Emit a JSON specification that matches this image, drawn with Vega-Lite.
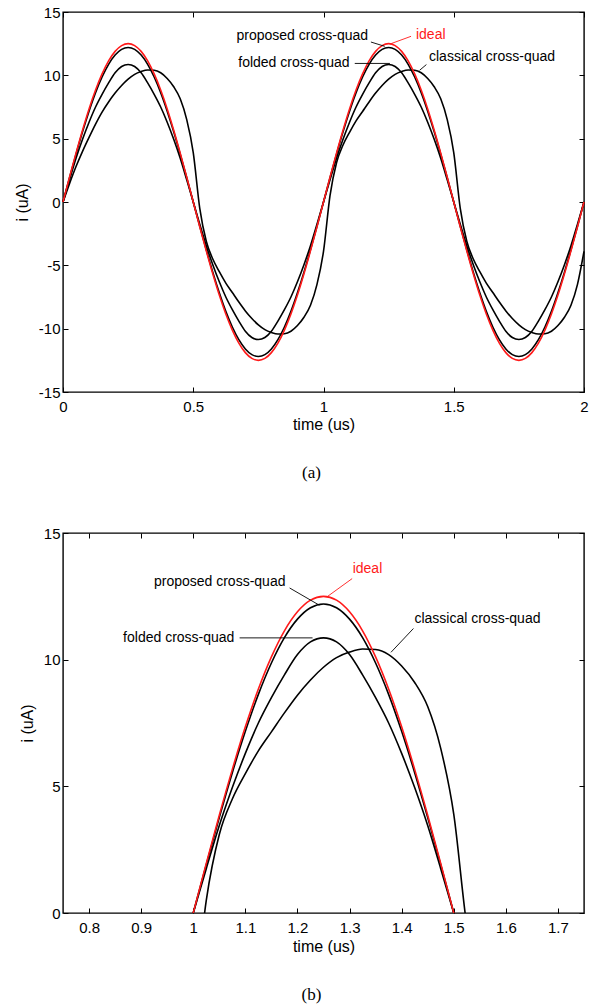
{
  "$schema": "https://vega.github.io/schema/vega-lite/v6.json",
  "background": "white",
  "padding": {"left": 13, "top": 4, "right": 5, "bottom": 4},
  "spacing": 43,
  "config": {
    "font": "Liberation Sans",
    "view": {"stroke": "black", "strokeWidth": 1.4},
    "axis": {
      "grid": false, "domain": false, "tickColor": "black", "tickSize": -5, "tickWidth": 1,
      "labelColor": "black", "labelFontSize": 15, "labelFont": "Liberation Sans",
      "titleFont": "Liberation Sans", "titleFontSize": 16, "titleFontWeight": "normal", "titleColor": "black",
      "labelFlush": false, "labelOverlap": false
    },
    "text": {"font": "Liberation Sans", "fontSize": 14}
  },
  "datasets": {
    "curves": [
      {"t":0,"ideal":0,"proposed":0,"folded":0,"classical":0},
      {"t":0.025,"ideal":1.96,"proposed":1.91,"folded":1.75,"classical":1.45},
      {"t":0.05,"ideal":3.86,"proposed":3.77,"folded":3.45,"classical":2.8},
      {"t":0.075,"ideal":5.67,"proposed":5.54,"folded":4.95,"classical":4.0},
      {"t":0.1,"ideal":7.35,"proposed":7.17,"folded":6.3,"classical":5.1},
      {"t":0.125,"ideal":8.84,"proposed":8.63,"folded":7.5,"classical":6.15},
      {"t":0.15,"ideal":10.11,"proposed":9.87,"folded":8.5,"classical":7.1},
      {"t":0.175,"ideal":11.14,"proposed":10.87,"folded":9.4,"classical":7.9},
      {"t":0.2,"ideal":11.89,"proposed":11.6,"folded":10.2,"classical":8.6},
      {"t":0.225,"ideal":12.35,"proposed":12.05,"folded":10.7,"classical":9.2},
      {"t":0.25,"ideal":12.5,"proposed":12.2,"folded":10.86,"classical":9.7},
      {"t":0.275,"ideal":12.35,"proposed":12.05,"folded":10.7,"classical":10.08},
      {"t":0.3,"ideal":11.89,"proposed":11.6,"folded":10.2,"classical":10.3},
      {"t":0.325,"ideal":11.14,"proposed":10.87,"folded":9.4,"classical":10.42},
      {"t":0.35,"ideal":10.11,"proposed":9.87,"folded":8.5,"classical":10.4},
      {"t":0.375,"ideal":8.84,"proposed":8.63,"folded":7.5,"classical":10.2},
      {"t":0.4,"ideal":7.35,"proposed":7.17,"folded":6.3,"classical":9.75},
      {"t":0.425,"ideal":5.67,"proposed":5.54,"folded":4.95,"classical":9.1},
      {"t":0.45,"ideal":3.86,"proposed":3.77,"folded":3.45,"classical":8.15},
      {"t":0.475,"ideal":1.96,"proposed":1.91,"folded":1.75,"classical":6.5},
      {"t":0.5,"ideal":0,"proposed":0,"folded":0,"classical":3.9},
      {"t":0.525,"ideal":-1.96,"proposed":-1.91,"folded":-1.75,"classical":-0.5},
      {"t":0.55,"ideal":-3.86,"proposed":-3.77,"folded":-3.45,"classical":-3.1},
      {"t":0.575,"ideal":-5.67,"proposed":-5.54,"folded":-4.95,"classical":-4.5},
      {"t":0.6,"ideal":-7.35,"proposed":-7.17,"folded":-6.3,"classical":-5.5},
      {"t":0.625,"ideal":-8.84,"proposed":-8.63,"folded":-7.5,"classical":-6.4},
      {"t":0.65,"ideal":-10.11,"proposed":-9.87,"folded":-8.5,"classical":-7.15},
      {"t":0.675,"ideal":-11.14,"proposed":-10.87,"folded":-9.4,"classical":-7.9},
      {"t":0.7,"ideal":-11.89,"proposed":-11.6,"folded":-10.2,"classical":-8.6},
      {"t":0.725,"ideal":-12.35,"proposed":-12.05,"folded":-10.7,"classical":-9.2},
      {"t":0.75,"ideal":-12.5,"proposed":-12.2,"folded":-10.86,"classical":-9.7},
      {"t":0.775,"ideal":-12.35,"proposed":-12.05,"folded":-10.7,"classical":-10.08},
      {"t":0.8,"ideal":-11.89,"proposed":-11.6,"folded":-10.2,"classical":-10.3},
      {"t":0.825,"ideal":-11.14,"proposed":-10.87,"folded":-9.4,"classical":-10.42},
      {"t":0.85,"ideal":-10.11,"proposed":-9.87,"folded":-8.5,"classical":-10.4},
      {"t":0.875,"ideal":-8.84,"proposed":-8.63,"folded":-7.5,"classical":-10.2},
      {"t":0.9,"ideal":-7.35,"proposed":-7.17,"folded":-6.3,"classical":-9.75},
      {"t":0.925,"ideal":-5.67,"proposed":-5.54,"folded":-4.95,"classical":-9.1},
      {"t":0.95,"ideal":-3.86,"proposed":-3.77,"folded":-3.45,"classical":-8.15},
      {"t":0.975,"ideal":-1.96,"proposed":-1.91,"folded":-1.75,"classical":-6.5},
      {"t":1.0,"ideal":0,"proposed":0,"folded":0,"classical":-3.9},
      {"t":1.025,"ideal":1.96,"proposed":1.91,"folded":1.75,"classical":0.5},
      {"t":1.05,"ideal":3.86,"proposed":3.77,"folded":3.45,"classical":3.1},
      {"t":1.075,"ideal":5.67,"proposed":5.54,"folded":4.95,"classical":4.5},
      {"t":1.1,"ideal":7.35,"proposed":7.17,"folded":6.3,"classical":5.5},
      {"t":1.125,"ideal":8.84,"proposed":8.63,"folded":7.5,"classical":6.4},
      {"t":1.15,"ideal":10.11,"proposed":9.87,"folded":8.5,"classical":7.15},
      {"t":1.175,"ideal":11.14,"proposed":10.87,"folded":9.4,"classical":7.9},
      {"t":1.2,"ideal":11.89,"proposed":11.6,"folded":10.2,"classical":8.6},
      {"t":1.225,"ideal":12.35,"proposed":12.05,"folded":10.7,"classical":9.2},
      {"t":1.25,"ideal":12.5,"proposed":12.2,"folded":10.86,"classical":9.7},
      {"t":1.275,"ideal":12.35,"proposed":12.05,"folded":10.7,"classical":10.08},
      {"t":1.3,"ideal":11.89,"proposed":11.6,"folded":10.2,"classical":10.3},
      {"t":1.325,"ideal":11.14,"proposed":10.87,"folded":9.4,"classical":10.42},
      {"t":1.35,"ideal":10.11,"proposed":9.87,"folded":8.5,"classical":10.4},
      {"t":1.375,"ideal":8.84,"proposed":8.63,"folded":7.5,"classical":10.2},
      {"t":1.4,"ideal":7.35,"proposed":7.17,"folded":6.3,"classical":9.75},
      {"t":1.425,"ideal":5.67,"proposed":5.54,"folded":4.95,"classical":9.1},
      {"t":1.45,"ideal":3.86,"proposed":3.77,"folded":3.45,"classical":8.15},
      {"t":1.475,"ideal":1.96,"proposed":1.91,"folded":1.75,"classical":6.5},
      {"t":1.5,"ideal":0,"proposed":0,"folded":0,"classical":3.9},
      {"t":1.525,"ideal":-1.96,"proposed":-1.91,"folded":-1.75,"classical":-0.5},
      {"t":1.55,"ideal":-3.86,"proposed":-3.77,"folded":-3.45,"classical":-3.1},
      {"t":1.575,"ideal":-5.67,"proposed":-5.54,"folded":-4.95,"classical":-4.5},
      {"t":1.6,"ideal":-7.35,"proposed":-7.17,"folded":-6.3,"classical":-5.5},
      {"t":1.625,"ideal":-8.84,"proposed":-8.63,"folded":-7.5,"classical":-6.4},
      {"t":1.65,"ideal":-10.11,"proposed":-9.87,"folded":-8.5,"classical":-7.15},
      {"t":1.675,"ideal":-11.14,"proposed":-10.87,"folded":-9.4,"classical":-7.9},
      {"t":1.7,"ideal":-11.89,"proposed":-11.6,"folded":-10.2,"classical":-8.6},
      {"t":1.725,"ideal":-12.35,"proposed":-12.05,"folded":-10.7,"classical":-9.2},
      {"t":1.75,"ideal":-12.5,"proposed":-12.2,"folded":-10.86,"classical":-9.7},
      {"t":1.775,"ideal":-12.35,"proposed":-12.05,"folded":-10.7,"classical":-10.08},
      {"t":1.8,"ideal":-11.89,"proposed":-11.6,"folded":-10.2,"classical":-10.3},
      {"t":1.825,"ideal":-11.14,"proposed":-10.87,"folded":-9.4,"classical":-10.42},
      {"t":1.85,"ideal":-10.11,"proposed":-9.87,"folded":-8.5,"classical":-10.4},
      {"t":1.875,"ideal":-8.84,"proposed":-8.63,"folded":-7.5,"classical":-10.2},
      {"t":1.9,"ideal":-7.35,"proposed":-7.17,"folded":-6.3,"classical":-9.75},
      {"t":1.925,"ideal":-5.67,"proposed":-5.54,"folded":-4.95,"classical":-9.1},
      {"t":1.95,"ideal":-3.86,"proposed":-3.77,"folded":-3.45,"classical":-8.15},
      {"t":1.975,"ideal":-1.96,"proposed":-1.91,"folded":-1.75,"classical":-6.5},
      {"t":2.0,"ideal":0,"proposed":0,"folded":0,"classical":-3.9}
    ],
    "notesA": [
      {"series":"proposed","label":"proposed cross-quad","t":1.171,"v":13.12},
      {"series":"folded","label":"folded cross-quad","t":1.1,"v":10.96},
      {"series":"ideal","label":"ideal","t":1.355,"v":13.2},
      {"series":"classical","label":"classical cross-quad","t":1.405,"v":11.43}
    ],
    "leadersA": [
      {"series":"proposed","t":1.182,"v":12.63,"t2":1.235,"v2":12.29},
      {"series":"ideal","t":1.336,"v":13.08,"t2":1.255,"v2":12.47},
      {"series":"folded","t":1.12,"v":10.94,"t2":1.255,"v2":10.94},
      {"series":"classical","t":1.395,"v":10.85,"t2":1.369,"v2":10.4}
    ],
    "notesB": [
      {"series":"proposed","label":"proposed cross-quad","t":1.177,"v":13.05},
      {"series":"folded","label":"folded cross-quad","t":1.079,"v":10.86},
      {"series":"ideal","label":"ideal","t":1.306,"v":13.56},
      {"series":"classical","label":"classical cross-quad","t":1.4245,"v":11.59}
    ],
    "leadersB": [
      {"series":"proposed","t":1.185,"v":12.83,"t2":1.242,"v2":12.15},
      {"series":"folded","t":1.089,"v":10.86,"t2":1.229,"v2":10.86},
      {"series":"ideal","t":1.305,"v":13.2,"t2":1.258,"v2":12.5},
      {"series":"classical","t":1.4226,"v":11.23,"t2":1.3795,"v2":10.29}
    ]
  },
  "vconcat": [
    {
      "width": 521, "height": 380,
      "title": {"text": "(a)", "orient": "bottom", "anchor": "middle", "frame": "group", "dx": -12, "font": "Liberation Serif", "fontSize": 17, "fontWeight": "normal", "color": "black", "offset": 33},
      "resolve": {"axis": {"x": "independent", "y": "independent"}},
      "layer": [
        {
          "data": {"name": "curves"},
          "transform": [{"fold": ["classical", "folded", "proposed", "ideal"], "as": ["series", "i"]}],
          "mark": {"type": "line", "strokeWidth": 1.6, "interpolate": "monotone"},
          "encoding": {
            "x": {"field": "t", "type": "quantitative", "scale": {"domain": [0, 2], "nice": false},
                  "axis": {"orient": "bottom", "values": [0, 0.5, 1, 1.5, 2], "labelExpr": "'' + datum.value", "labelPadding": 12, "titlePadding": 2, "title": "time (us)"}},
            "y": {"field": "i", "type": "quantitative", "scale": {"domain": [-15, 15], "nice": false},
                  "axis": {"orient": "left", "values": [-15, -10, -5, 0, 5, 10, 15], "labelExpr": "'' + datum.value", "labelPadding": 8, "titlePadding": 8, "title": "i (uA)"}},
            "color": {"field": "series", "type": "nominal", "scale": {"domain": ["classical", "folded", "proposed", "ideal"], "range": ["black", "black", "black", "#ff1a1a"]}, "legend": null}
          }
        },
        {
          "data": {"name": "leadersA"},
          "mark": {"type": "rule", "strokeWidth": 0.9},
          "encoding": {
            "x": {"field": "t", "type": "quantitative", "axis": null},
            "y": {"field": "v", "type": "quantitative", "axis": null},
            "x2": {"field": "t2"},
            "y2": {"field": "v2"},
            "color": {"field": "series", "type": "nominal", "legend": null}
          }
        },
        {
          "data": {"name": "notesA"},
          "transform": [{"filter": "datum.series == 'proposed' || datum.series == 'folded'"}],
          "mark": {"type": "text", "align": "right", "baseline": "middle", "fontSize": 14},
          "encoding": {
            "x": {"field": "t", "type": "quantitative", "axis": {"orient": "top", "values": [0, 0.5, 1, 1.5, 2], "labels": false, "title": null}},
            "y": {"field": "v", "type": "quantitative", "axis": {"orient": "right", "values": [-15, -10, -5, 0, 5, 10, 15], "labels": false, "title": null}},
            "text": {"field": "label"},
            "color": {"field": "series", "type": "nominal", "legend": null}
          }
        },
        {
          "data": {"name": "notesA"},
          "transform": [{"filter": "datum.series == 'ideal' || datum.series == 'classical'"}],
          "mark": {"type": "text", "align": "left", "baseline": "middle", "fontSize": 14},
          "encoding": {
            "x": {"field": "t", "type": "quantitative", "axis": null},
            "y": {"field": "v", "type": "quantitative", "axis": null},
            "text": {"field": "label"},
            "color": {"field": "series", "type": "nominal", "legend": null}
          }
        }
      ]
    },
    {
      "width": 521, "height": 380,
      "title": {"text": "(b)", "orient": "bottom", "anchor": "middle", "frame": "group", "dx": -12, "font": "Liberation Serif", "fontSize": 17, "fontWeight": "normal", "color": "black", "offset": 33},
      "resolve": {"axis": {"x": "independent", "y": "independent"}},
      "layer": [
        {
          "data": {"name": "curves"},
          "transform": [{"fold": ["classical", "folded", "proposed", "ideal"], "as": ["series", "i"]}],
          "mark": {"type": "line", "strokeWidth": 1.6, "interpolate": "monotone", "clip": true},
          "encoding": {
            "x": {"field": "t", "type": "quantitative", "scale": {"domain": [0.75, 1.75], "nice": false},
                  "axis": {"orient": "bottom", "values": [0.8, 0.9, 1, 1.1, 1.2, 1.3, 1.4, 1.5, 1.6, 1.7], "labelExpr": "'' + datum.value", "labelPadding": 12, "titlePadding": 3, "title": "time (us)"}},
            "y": {"field": "i", "type": "quantitative", "scale": {"domain": [0, 15], "nice": false},
                  "axis": {"orient": "left", "values": [0, 5, 10, 15], "labelExpr": "'' + datum.value", "labelPadding": 8, "titlePadding": 8, "title": "i (uA)"}},
            "color": {"field": "series", "type": "nominal", "scale": {"domain": ["classical", "folded", "proposed", "ideal"], "range": ["black", "black", "black", "#ff1a1a"]}, "legend": null}
          }
        },
        {
          "data": {"name": "leadersB"},
          "mark": {"type": "rule", "strokeWidth": 0.9},
          "encoding": {
            "x": {"field": "t", "type": "quantitative", "axis": null},
            "y": {"field": "v", "type": "quantitative", "axis": null},
            "x2": {"field": "t2"},
            "y2": {"field": "v2"},
            "color": {"field": "series", "type": "nominal", "legend": null}
          }
        },
        {
          "data": {"name": "notesB"},
          "transform": [{"filter": "datum.series == 'proposed' || datum.series == 'folded'"}],
          "mark": {"type": "text", "align": "right", "baseline": "middle", "fontSize": 14},
          "encoding": {
            "x": {"field": "t", "type": "quantitative", "axis": {"orient": "top", "values": [0.8, 0.9, 1, 1.1, 1.2, 1.3, 1.4, 1.5, 1.6, 1.7], "labels": false, "title": null}},
            "y": {"field": "v", "type": "quantitative", "axis": {"orient": "right", "values": [0, 5, 10, 15], "labels": false, "title": null}},
            "text": {"field": "label"},
            "color": {"field": "series", "type": "nominal", "legend": null}
          }
        },
        {
          "data": {"name": "notesB"},
          "transform": [{"filter": "datum.series == 'ideal' || datum.series == 'classical'"}],
          "mark": {"type": "text", "align": "left", "baseline": "middle", "fontSize": 14},
          "encoding": {
            "x": {"field": "t", "type": "quantitative", "axis": null},
            "y": {"field": "v", "type": "quantitative", "axis": null},
            "text": {"field": "label"},
            "color": {"field": "series", "type": "nominal", "legend": null}
          }
        }
      ]
    }
  ]
}
